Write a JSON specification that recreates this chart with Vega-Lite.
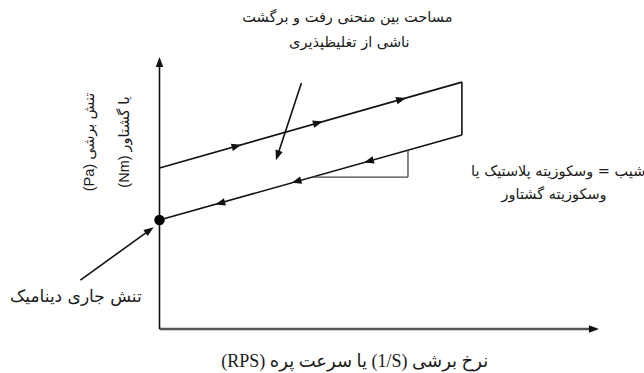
{
  "$schema": "https://vega.github.io/schema/vega-lite/v6.json",
  "width": 644,
  "height": 373,
  "padding": 0,
  "autosize": {"type": "fit", "contains": "padding"},
  "background": "white",
  "config": {"view": {"stroke": null}},
  "datasets": {
    "xaxis": [{"x": 0, "y": 0, "x2": 13.56, "y2": 0}],
    "lines": [
      {"x": 0, "y": 0, "x2": 0, "y2": 8.45},
      {"x": 0, "y": 5.14, "x2": 9.48, "y2": 7.88},
      {"x": 9.48, "y": 7.88, "x2": 9.48, "y2": 6.19},
      {"x": 9.48, "y": 6.19, "x2": 0, "y2": 3.48},
      {"x": 4.45, "y": 7.85, "x2": 3.70, "y2": 5.54},
      {"x": -2.48, "y": 1.56, "x2": -0.31, "y2": 3.16}
    ],
    "slope": [
      {"x": 7.79, "y": 5.71, "x2": 7.79, "y2": 4.85},
      {"x": 4.79, "y": 4.85, "x2": 7.79, "y2": 4.85}
    ],
    "heads": [
      {"x": 0, "y": 8.52, "dir": 0},
      {"x": 13.62, "y": 0, "dir": 90},
      {"x": 2.42, "y": 5.84, "dir": 74.5},
      {"x": 4.97, "y": 6.58, "dir": 74.5},
      {"x": 7.58, "y": 7.33, "dir": 74.5},
      {"x": 6.56, "y": 5.36, "dir": 254.5},
      {"x": 4.29, "y": 4.71, "dir": 254.5},
      {"x": 1.90, "y": 4.02, "dir": 254.5},
      {"x": 3.70, "y": 5.54, "dir": 198.7},
      {"x": -0.31, "y": 3.16, "dir": 54.8}
    ],
    "dot": [{"x": 0, "y": 3.48}],
    "notes": [
      {"x": 5.89, "y": 9.92, "label": "مساحت بین منحنی رفت و برگشت"},
      {"x": 5.95, "y": 9.12, "label": "ناشی از تغلیظپذیری"},
      {"x": 12.5, "y": 5.01, "label": "شیب = وسکوزیته پلاستیک یا"},
      {"x": 12.37, "y": 4.28, "label": "وسکوزیته گشتاور"}
    ],
    "dyn": [
      {"x": -2.62, "y": 1.02, "label": "تنش جاری دینامیک"}
    ],
    "xlabel": [
      {"x": 6.12, "y": -1.05, "label": "\u202bنرخ برشی \u202a(1/S)\u202c یا سرعت پره \u202a(RPS)\u202c\u202c"}
    ],
    "ylabels": [
      {"x": -2.18, "y": 5.97, "label": "\u202bتنش برشی (Pa)\u202c"},
      {"x": -1.07, "y": 5.97, "label": "\u202bیا گشتاور (Nm)\u202c"}
    ]
  },
  "encoding": {
    "x": {"field": "x", "type": "quantitative", "scale": {"domain": [-5, 14.75], "nice": false, "zero": false}, "axis": null},
    "y": {"field": "y", "type": "quantitative", "scale": {"domain": [-1.4, 10.5], "nice": false, "zero": false}, "axis": null}
  },
  "layer": [
    {
      "data": {"name": "xaxis"},
      "mark": {"type": "rule", "color": "#555555", "strokeWidth": 2.5},
      "encoding": {"x2": {"field": "x2"}, "y2": {"field": "y2"}}
    },
    {
      "data": {"name": "lines"},
      "mark": {"type": "rule", "color": "#111111", "strokeWidth": 1.6},
      "encoding": {"x2": {"field": "x2"}, "y2": {"field": "y2"}}
    },
    {
      "data": {"name": "slope"},
      "mark": {"type": "rule", "color": "#444444", "strokeWidth": 1.3},
      "encoding": {"x2": {"field": "x2"}, "y2": {"field": "y2"}}
    },
    {
      "data": {"name": "heads"},
      "mark": {"type": "point", "shape": "M0,-1L0.75,1L-0.75,1Z", "size": 100, "filled": true, "color": "#111111", "opacity": 1},
      "encoding": {"angle": {"field": "dir", "type": "quantitative", "scale": null}}
    },
    {
      "data": {"name": "dot"},
      "mark": {"type": "point", "shape": "circle", "size": 110, "filled": true, "color": "#000000", "opacity": 1}
    },
    {
      "data": {"name": "notes"},
      "mark": {"type": "text", "font": "DejaVu Sans", "fontSize": 14.5, "color": "#1a1a1a", "align": "center", "baseline": "middle"},
      "encoding": {"text": {"field": "label"}}
    },
    {
      "data": {"name": "dyn"},
      "mark": {"type": "text", "font": "DejaVu Sans", "fontSize": 17, "color": "#1a1a1a", "align": "center", "baseline": "middle"},
      "encoding": {"text": {"field": "label"}}
    },
    {
      "data": {"name": "xlabel"},
      "mark": {"type": "text", "font": "Liberation Serif, DejaVu Sans", "fontSize": 18, "color": "#1a1a1a", "align": "center", "baseline": "middle"},
      "encoding": {"text": {"field": "label"}}
    },
    {
      "data": {"name": "ylabels"},
      "mark": {"type": "text", "font": "Liberation Sans, DejaVu Sans", "fontSize": 14.5, "color": "#1a1a1a", "align": "center", "baseline": "middle", "angle": 270},
      "encoding": {"text": {"field": "label"}}
    }
  ]
}
